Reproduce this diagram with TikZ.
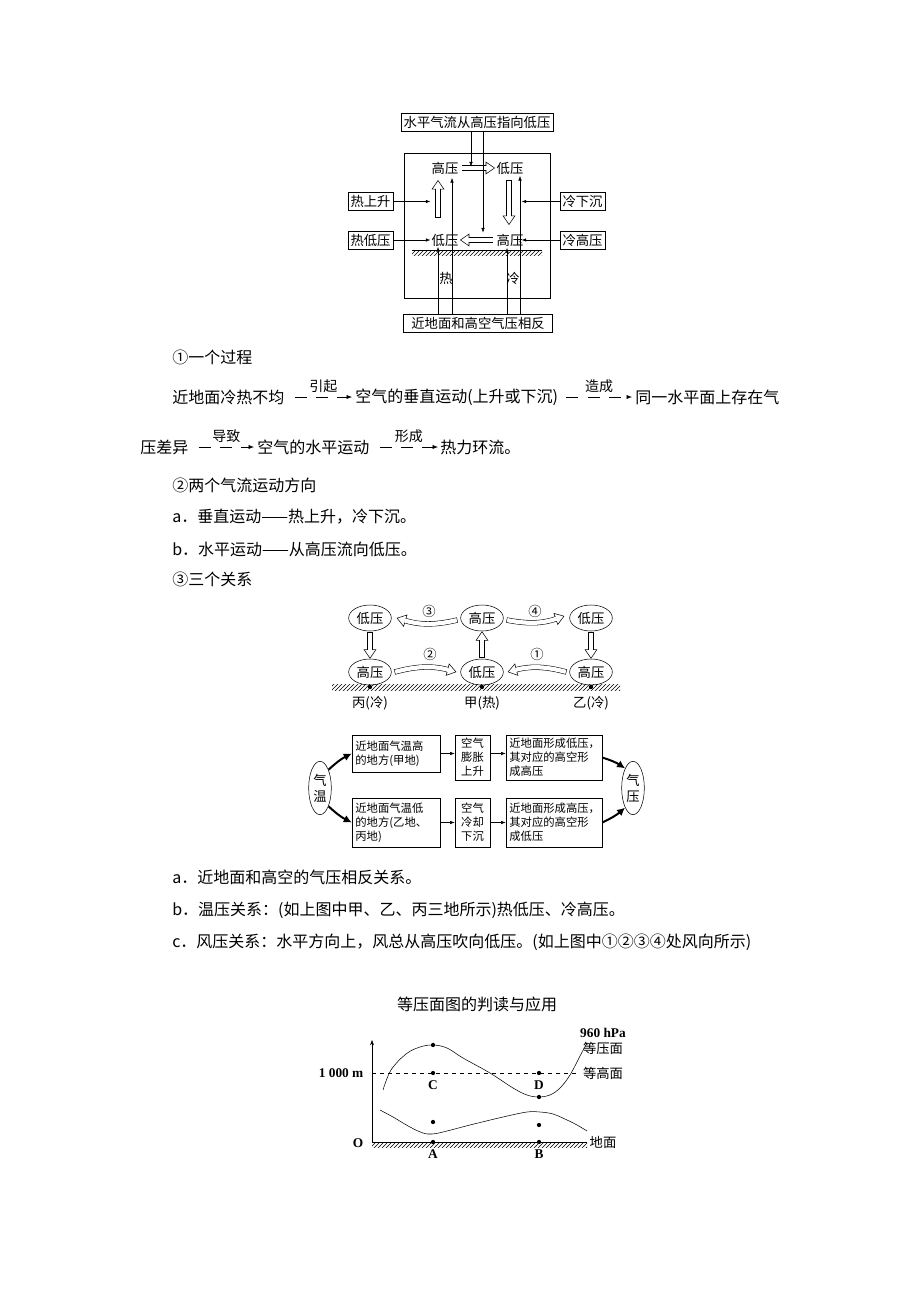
\documentclass[tikz,border=0pt]{standalone}
\usepackage{fontspec}
\setmainfont{Noto Sans CJK SC}
\newfontfamily\latin{Liberation Serif}
\usetikzlibrary{arrows.meta,shapes.geometric,positioning,calc,patterns}

\begin{document}
\begin{tikzpicture}[x=0.75pt,y=-0.75pt]

	\tikzstyle{body} = [anchor=west, inner sep=0pt, font=\fontsize{12pt}{14pt}\selectfont]
	\tikzstyle{small} = [font=\fontsize{10pt}{12pt}\selectfont]
	\tikzstyle{overlbl} = [inner sep=0pt, font=\fontsize{10.5pt}{12pt}\selectfont]
	\tikzstyle{lblbox} = [draw, small, inner xsep=2pt, inner ysep=2pt]
	\tikzstyle{tip} = [-{Latex[length=3.5pt,width=2.6pt]}]
	\tikzstyle{dasharrow} = [dash pattern=on 9pt off 7pt, -{Latex[length=4pt,width=3pt]}]
	\tikzstyle{hollow} = [
		line width=0.4pt,
		-{Triangle[open, fill=white, length=7pt, width=9.5pt]},
		postaction={draw, -, line width=4pt, shorten >=6.5pt},
		postaction={draw=white, -, line width=3.2pt, shorten >=6.2pt, shorten <=0.4pt}
	]
	\tikzstyle{oval} = [draw, ellipse, small, minimum width=32pt, minimum height=19.5pt, inner sep=0pt]
	\tikzstyle{flowbox} = [draw, font=\fontsize{8.5pt}{10.5pt}\selectfont, inner xsep=2.5pt, inner ysep=2pt]
	\tikzstyle{fat} = [line width=1.5pt, -{Latex[length=6pt,width=6pt]}]
	\tikzstyle{dot} = [circle, fill, inner sep=0pt, minimum size=3.2pt]

	\useasboundingbox (0,0) rectangle (920,1302);

	% thermal circulation sketch
	\node[lblbox, minimum width=111pt] (top) at (477,122.5) {水平气流从高压指向低压};
	\node[draw, minimum width=109.5pt, minimum height=108.75pt] (frame) at (477,225.5) {};
	\node[lblbox, minimum width=112pt] (bot) at (478,323) {近地面和高空气压相反};
	\node[lblbox] (hotUp) at (370.5,201.5) {热上升};
	\node[lblbox] (hotLow) at (370.5,240) {热低压};
	\node[lblbox] (coldDown) at (582.5,201.5) {冷下沉};
	\node[lblbox] (coldHigh) at (582.5,240) {冷高压};
	\node[small, inner sep=1pt] (hpTL) at (445,168) {高压};
	\node[small, inner sep=1pt] (lpTR) at (510,168) {低压};
	\node[small, inner sep=1pt] (lpBL) at (445,240) {低压};
	\node[small, inner sep=1pt] (hpBR) at (510,240) {高压};
	\fill[pattern=north east lines] (412,250) rectangle (542,255);
	\draw (412,250) -- (542,250);
	\node[small] (hot) at (446,278) {热};
	\node[small] (cold) at (513,278) {冷};

	\draw[hollow] ($(hpTL.east)+(2,0)$) -- (lpTR.west);
	\draw[hollow] ($(lpBL)+(-7,-22)$) -- ($(hpTL)+(-7,12)$);
	\draw[hollow] ($(lpTR)+(-1,12)$) -- ($(hpBR)+(-1,-15)$);
	\draw[hollow] ($(hpBR.west)+(-2,0)$) -- (lpBL.east);

	\draw[tip] ($(top.south)+(-6,0)$) -- ($(top.south)+(-6,35)$);
	\draw[tip] ($(top.south)+(6,0)$) -- ($(top.south)+(6,101)$);
	\draw[tip] ($(bot.north)+(-40,0)$) -- ($(bot.north)+(-40,-67)$);
	\draw[tip] ($(bot.north)+(-26,0)$) -- ($(bot.north)+(-26,-136)$);
	\draw[tip] ($(bot.north)+(29,0)$) -- ($(bot.north)+(29,-66)$);
	\draw[tip] ($(bot.north)+(42,0)$) -- ($(bot.north)+(42,-138)$);
	\draw[tip] (hotUp.east) -- ++(37,0);
	\draw[tip] (hotLow.east) -- ++(37,0);
	\draw[tip] (coldDown.west) -- ++(-38,0);
	\draw[tip] (coldHigh.west) -- ++(-38,0);

	% text block
	\node[body] (s1) at (172,357) {①一个过程};
	\node[body] (p1) at (172,397) {近地面冷热不均};
	\node[body] (p2) at (355,397) {空气的垂直运动(上升或下沉)};
	\node[body] (p3) at (635,397) {同一水平面上存在气};
	\node[body] (q1) at (140,447) {压差异};
	\node[body] (q2) at (257,447) {空气的水平运动};
	\node[body] (q3) at (440,447) {热力环流。};
	\draw[dasharrow] ($(p1.east)+(10,0)$) -- ($(p2.west)+(-3,0)$) node[midway, above=3pt, overlbl] {引起};
	\draw[dasharrow] ($(p2.east)+(8,0)$) -- ($(p3.west)+(-3,0)$) node[midway, above=3pt, overlbl] {造成};
	\draw[dasharrow] ($(q1.east)+(10,0)$) -- ($(q2.west)+(-3,0)$) node[midway, above=3pt, overlbl] {导致};
	\draw[dasharrow] ($(q2.east)+(10,0)$) -- ($(q3.west)+(-2,0)$) node[midway, above=3pt, overlbl] {形成};
	\node[body] (s2) at (172,485) {②两个气流运动方向};
	\node[body] (a1) at (172,517) {a．垂直运动——热上升，冷下沉。};
	\node[body] (b1) at (172,549) {b．水平运动——从高压流向低压。};
	\node[body] (s3) at (172,579) {③三个关系};

	% three relations
	\node[oval] (topL) at (370,618) {低压};
	\node[oval] (topM) at (482,618) {高压};
	\node[oval] (topR) at (591,618) {低压};
	\node[oval] (botL) at (370,672) {高压};
	\node[oval] (botM) at (482,672) {低压};
	\node[oval] (botR) at (591,672) {高压};
	\fill[pattern=north east lines] (332,684) rectangle (620,690);
	\node[dot] (gBing) at (370,687) {};
	\node[dot] (gJia) at (482,687) {};
	\node[dot] (gYi) at (591,687) {};
	\node[small] (lBing) at (370,703) {丙(冷)};
	\node[small] (lJia) at (482,703) {甲(热)};
	\node[small] (lYi) at (591,703) {乙(冷)};

	\draw[hollow] ($(topL.south)+(0,1)$) -- (botL.north);
	\draw[hollow] ($(botM.north)+(0,-1)$) -- (topM.south);
	\draw[hollow] ($(topR.south)+(0,1)$) -- (botR.north);
	\draw[hollow] ($(topM.west)+(-3,2)$) to[bend left=15] ($(topL.east)+(5,0)$);
	\draw[hollow] ($(topM.east)+(3,2)$) to[bend right=15] ($(topR.west)+(-5,-2)$);
	\draw[hollow] ($(botL.east)+(3,0)$) to[bend left=15] ($(botM.west)+(-4,0)$);
	\draw[hollow] ($(botR.west)+(-3,0)$) to[bend right=15] ($(botM.east)+(4,0)$);
	\node[small] (n3) at (429,611) {③};
	\node[small] (n4) at (535,611) {④};
	\node[small] (n2) at (430,654) {②};
	\node[small] (n1) at (537,654) {①};

	% flow chart
	\node[draw, ellipse, small, align=center, inner sep=0pt, minimum width=17pt, minimum height=40pt] (temp) at (320,788) {气\\温};
	\node[draw, ellipse, small, align=center, inner sep=0pt, minimum width=17pt, minimum height=40pt] (pres) at (633,788) {气\\压};
	\node[flowbox, text width=61pt, minimum height=27.75pt, align=left] (hotA) at (396,753.5) {近地面气温高\\的地方(甲地)};
	\node[flowbox, minimum width=26.25pt, minimum height=33.75pt, align=center] (hotB) at (472.5,757.5) {空气\\膨胀\\上升};
	\node[flowbox, text width=67pt, minimum height=33.75pt, align=left] (hotC) at (554,757.5) {近地面形成低压，\\其对应的高空形\\成高压};
	\node[flowbox, text width=61pt, minimum height=36.75pt, align=left] (coldA) at (396,822.5) {近地面气温低\\的地方(乙地、\\丙地)};
	\node[flowbox, minimum width=26.25pt, minimum height=36.75pt, align=center] (coldB) at (472.5,822.5) {空气\\冷却\\下沉};
	\node[flowbox, text width=67pt, minimum height=36.75pt, align=left] (coldC) at (554,822.5) {近地面形成高压，\\其对应的高空形\\成低压};

	\draw[tip] (hotA.east) -- (hotA.east -| hotB.west);
	\draw[tip] (hotB.east |- hotA.east) -- (hotC.west |- hotA.east);
	\draw[tip] (coldA.east) -- (coldB.west);
	\draw[tip] (coldB.east) -- (coldC.west);
	\draw[fat] (temp.65) to[bend left=8] (hotA.west);
	\draw[fat] (temp.-65) to[bend right=8] (coldA.west);
	\draw[fat] (hotC.east) to[bend left=8] (pres.112);
	\draw[fat] (coldC.east) to[bend right=8] (pres.-112);

	\node[body] (c1) at (172,877) {a．近地面和高空的气压相反关系。};
	\node[body] (c2) at (172,910) {b．温压关系：(如上图中甲、乙、丙三地所示)热低压、冷高压。};
	\node[body] (c3) at (172,942) {c．风压关系：水平方向上，风总从高压吹向低压。(如上图中①②③④处风向所示)};

	% isobaric surface
	\node[body, anchor=center] (title) at (477,1004) {等压面图的判读与应用};
	\coordinate (orig) at (372,1142);
	\coordinate (ytop) at (372,1040);
	\fill[pattern=north east lines] (372,1142) rectangle (587,1147);
	\draw (orig) -- (587,1142);
	\draw[-{Stealth[length=4pt,width=3pt]}] (orig) -- (ytop);
	\node[small, anchor=east] (oLbl) at (368,1143) {\latin\bfseries O};
	\node[small, anchor=east] (lev) at (368,1073) {\latin\bfseries 1 000 m};
	\node[small] (eqH) at (603,1073) {等高面};
	\node[small] (gnd) at (603,1142) {地面};
	\node[small] (hpa) at (603,1033) {\latin\bfseries 960 hPa};
	\node[small] (eqP) at (603,1048) {等压面};
	\draw[dashed] (orig |- lev) -- (eqH.west);

	\node[dot] (dA) at (433,1142) {};
	\node[dot] (dB) at (539,1142) {};
	\node[dot] (dA2) at (433,1122) {};
	\node[dot] (dB2) at (539,1125) {};
	\node[dot] (dC) at (433,1073) {};
	\node[dot] (dD) at (539,1073) {};
	\node[dot] (dTop) at (433,1045) {};
	\node[dot] (dLow) at (539,1097) {};
	\node[small] (tA) at (433,1154) {\latin\bfseries A};
	\node[small] (tB) at (539,1154) {\latin\bfseries B};
	\node[small] (tC) at (433,1085) {\latin\bfseries C};
	\node[small] (tD) at (539,1085) {\latin\bfseries D};

	\draw plot[smooth, tension=0.6] coordinates {(383,1090) (391,1070) (406,1054) (420,1047) (433,1045) (447,1048) (463,1058) (490,1073) (513,1088) (527,1095) (539,1097) (550,1095) (560,1088) (570,1075) (580,1056) (587,1043)};
	\draw plot[smooth, tension=0.6] coordinates {(380,1110) (393,1117) (410,1127) (423,1133) (432,1134) (443,1132) (470,1125) (503,1117) (527,1112) (540,1112) (553,1114) (567,1120) (577,1125) (587,1131)};

\end{tikzpicture}
\end{document}
